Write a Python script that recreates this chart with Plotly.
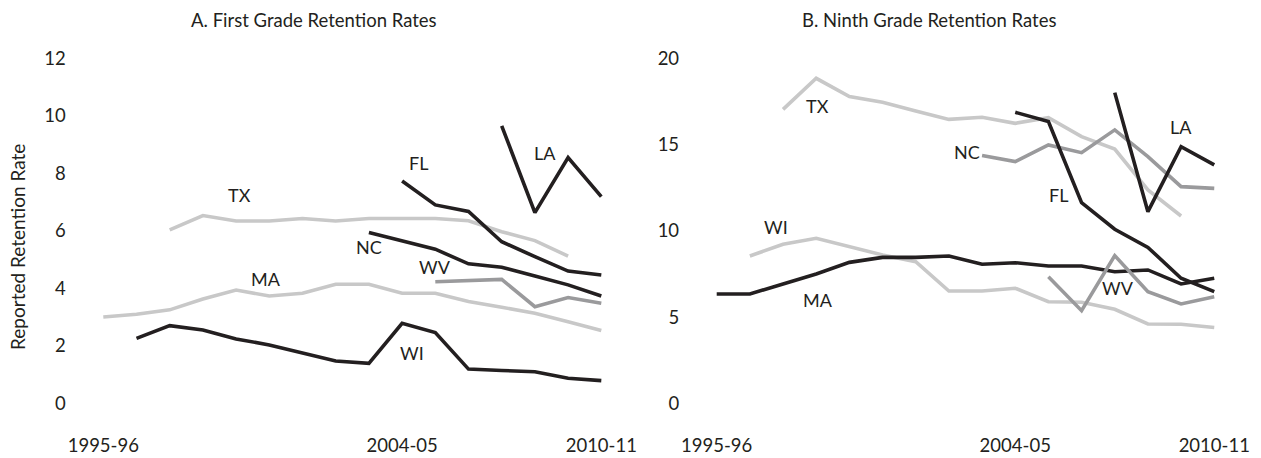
import plotly.graph_objects as go

years = ["1995-96","1996-97","1997-98","1998-99","1999-00","2000-01","2001-02","2002-03",
         "2003-04","2004-05","2005-06","2006-07","2007-08","2008-09","2009-10","2010-11"]
tick_labels = ["1995-96", "2004-05", "2010-11"]

# Panel A: first grade (values indexed from start year)
a_MA = [3.0, 3.1, 3.25, 3.63, 3.94, 3.73, 3.83, 4.14, 4.14, 3.83, 3.83, 3.54, 3.34, 3.13, 2.84, 2.53]  # from 1995-96
a_TX = [6.03, 6.53, 6.34, 6.34, 6.43, 6.34, 6.43, 6.43, 6.43, 6.35, 5.97, 5.66, 5.12]                   # from 1997-98
a_WI = [2.26, 2.70, 2.55, 2.24, 2.03, 1.74, 1.47, 1.39, 2.78, 2.46, 1.19, 1.14, 1.10, 0.87, 0.79]      # from 1996-97
a_FL = [7.73, 6.90, 6.67, 5.62, 5.10, 4.60, 4.46]                                                       # from 2004-05
a_NC = [5.94, 5.65, 5.36, 4.85, 4.73, 4.43, 4.12, 3.73]                                                 # from 2003-04
a_WV = [4.23, 4.26, 4.31, 3.36, 3.68, 3.48]                                                             # from 2005-06
a_LA = [9.65, 6.63, 8.55, 7.19]                                                                         # from 2007-08

# Panel B: ninth grade
b_MA = [6.34, 6.34, 6.92, 7.50, 8.17, 8.46, 8.46, 8.54, 8.06, 8.15, 7.96, 7.96, 7.63, 7.73, 6.92, 7.25]  # from 1995-96
b_WI = [8.54, 9.22, 9.57, 9.08, 8.60, 8.21, 6.51, 6.51, 6.67, 5.89, 5.86, 5.45, 4.60, 4.58, 4.39]      # from 1996-97
b_TX = [17.04, 18.84, 17.78, 17.45, 16.95, 16.46, 16.58, 16.23, 16.56, 15.46, 14.74, 12.37, 10.86]      # from 1997-98
b_NC = [14.36, 14.01, 14.98, 14.53, 15.85, 14.30, 12.56, 12.46]                                        # from 2003-04
b_FL = [16.87, 16.33, 11.63, 10.09, 9.04, 7.25, 6.47]                                                  # from 2004-05
b_WV = [7.34, 5.37, 8.56, 6.47, 5.76, 6.18]                                                            # from 2005-06
b_LA = [18.01, 11.11, 14.88, 13.82]                                                                    # from 2007-08

BLACK = "#231f20"
LIGHT = "#c8c8c8"
MID = "#9a9a9c"

W, H = 1261, 458
FONT = "Lato"

def px_x(p):
    return p / W

def px_y(p):
    return 1 - p / H

fig = go.Figure()

def add(series, start_label, color, xa, ya):
    i0 = years.index(start_label)
    fig.add_trace(go.Scatter(
        x=years[i0:i0 + len(series)], y=series, mode="lines",
        line=dict(color=color, width=3.6), xaxis=xa, yaxis=ya,
        showlegend=False, hoverinfo="x+y"))

# panel A
add(a_MA, "1995-96", LIGHT, "x", "y")
add(a_TX, "1997-98", LIGHT, "x", "y")
add(a_WV, "2005-06", MID, "x", "y")
add(a_WI, "1996-97", BLACK, "x", "y")
add(a_NC, "2003-04", BLACK, "x", "y")
add(a_FL, "2004-05", BLACK, "x", "y")
add(a_LA, "2007-08", BLACK, "x", "y")
# panel B
add(b_WI, "1996-97", LIGHT, "x2", "y2")
add(b_TX, "1997-98", LIGHT, "x2", "y2")
add(b_MA, "1995-96", BLACK, "x2", "y2")
add(b_NC, "2003-04", MID, "x2", "y2")
add(b_WV, "2005-06", MID, "x2", "y2")
add(b_FL, "2004-05", BLACK, "x2", "y2")
add(b_LA, "2007-08", BLACK, "x2", "y2")

# State labels: (text, x category index, y value)
a_labels = [("TX", 4.1, 7.25), ("FL", 9.5, 8.35), ("LA", 13.3, 8.7), ("NC", 8.0, 5.45),
            ("WV", 10.0, 4.75), ("MA", 4.9, 4.31), ("WI", 9.3, 1.74)]
b_labels = [("TX", 3.04, 17.24), ("NC", 7.55, 14.59), ("FL", 10.3, 12.08), ("LA", 14.0, 16.04),
            ("WI", 1.79, 10.24), ("MA", 3.06, 5.99), ("WV", 12.09, 6.67)]
for t, xv, yv in a_labels:
    fig.add_annotation(text=t, x=xv, y=yv, xref="x", yref="y", showarrow=False,
                       xanchor="center", yanchor="middle",
                       font=dict(family=FONT, size=18, color="#231f20"))
for t, xv, yv in b_labels:
    fig.add_annotation(text=t, x=xv, y=yv, xref="x2", yref="y2", showarrow=False,
                       xanchor="center", yanchor="middle",
                       font=dict(family=FONT, size=18, color="#231f20"))

# Titles
fig.add_annotation(text="A. First Grade Retention Rates", x=px_x(313.5), y=px_y(20),
                   xref="paper", yref="paper", showarrow=False,
                   xanchor="center", yanchor="middle",
                   font=dict(family=FONT, size=18.5, color="#231f20"))
fig.add_annotation(text="B. Ninth Grade Retention Rates", x=px_x(929), y=px_y(20),
                   xref="paper", yref="paper", showarrow=False,
                   xanchor="center", yanchor="middle",
                   font=dict(family=FONT, size=18.5, color="#231f20"))
fig.add_annotation(text="Reported Retention Rate", x=px_x(17), y=px_y(247),
                   xref="paper", yref="paper", showarrow=False, textangle=-90,
                   xanchor="center", yanchor="middle",
                   font=dict(family=FONT, size=19, color="#231f20"))

# geometry (pixels)
step_a = 33.2
a_x0 = 103.3 - 0.5 * step_a
a_x1 = a_x0 + 16 * step_a
step_b = 33.17
b_x0 = 716.7 - 0.5 * step_b
b_x1 = b_x0 + 16 * step_b
y_top, y_bot = 29.6, 432.0

tickfont = dict(family=FONT, size=18.5, color="#231f20")
common_x = dict(type="category", categoryorder="array", categoryarray=years,
                tickmode="array", tickvals=tick_labels, ticktext=tick_labels,
                showgrid=False, zeroline=False, showline=False, ticks="",
                tickfont=tickfont, range=[-0.5, 15.5], automargin=False)
common_y = dict(showgrid=False, zeroline=False, showline=False, ticks="",
                tickfont=tickfont, ticklabelstandoff=20, automargin=False)

fig.update_layout(
    template="none",
    width=W, height=H, margin=dict(l=0, r=0, t=0, b=0, pad=0),
    paper_bgcolor="white", plot_bgcolor="white",
    font=dict(family=FONT, color="#231f20"),
    xaxis=dict(domain=[px_x(a_x0), px_x(a_x1)], anchor="y", **common_x),
    yaxis=dict(domain=[px_y(y_bot), px_y(y_top)], anchor="x",
               range=[-(y_bot - 403.3) / 28.75, 12 + (58.3 - y_top) / 28.75],
               tickvals=[0, 2, 4, 6, 8, 10, 12], **common_y),
    xaxis2=dict(domain=[px_x(b_x0), px_x(b_x1)], anchor="y2", **common_x),
    yaxis2=dict(domain=[px_y(y_bot), px_y(y_top)], anchor="x2",
                range=[-(y_bot - 403.3) / 17.25, 20 + (58.3 - y_top) / 17.25],
                tickvals=[0, 5, 10, 15, 20], **common_y),
)

fig.write_html(
    "out.html",
    config={"responsive": False, "displayModeBar": False},
    post_script="document.body.style.margin='0';document.body.style.padding='0';"
                "document.body.style.overflow='hidden';",
)
